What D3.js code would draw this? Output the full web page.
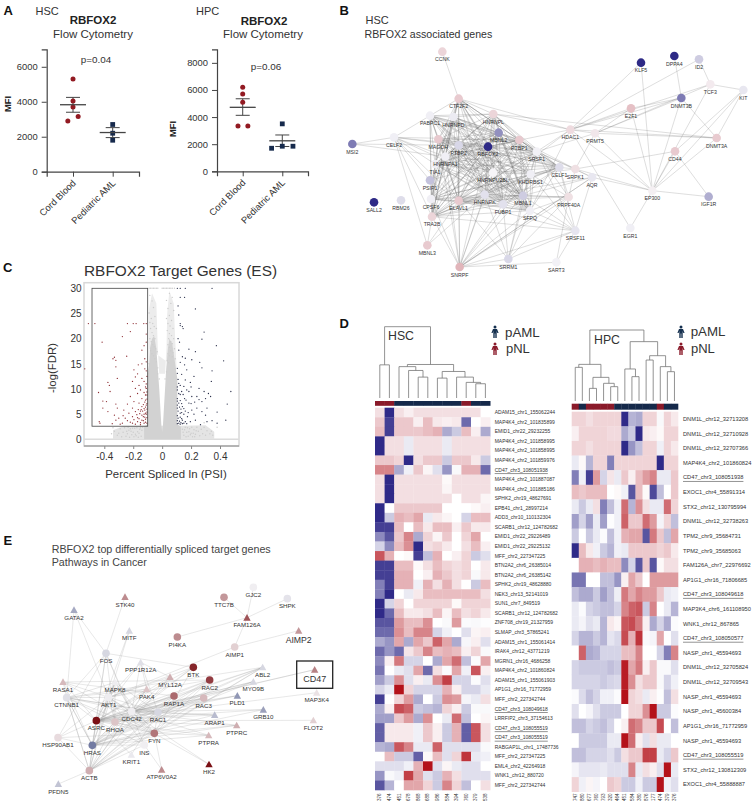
<!DOCTYPE html>
<html>
<head>
<meta charset="utf-8">
<script src="https://d3js.org/d3.v7.min.js"></script>
<style>
    body { margin: 0; background: #fff; }
    svg { display: block; }
    text { font-family: "Liberation Sans", Arial, sans-serif; }
    .panel { font-size: 13px; font-weight: bold; fill: #111; }
    .plot-axis text { fill: #333; }
    .plot-axis path, .plot-axis line { stroke: #444; }
</style>
</head>
<body>
<div id="chart"></div>
<script>
// panel A
const flowGroups = ['Cord Blood', 'Pediatric AML'];
const hscCord = [5300, 4050, 3700, 3150, 2900];
const hscCordJitter = [0, 0, 0, 0.13, -0.13];
const hscAml = [2700, 2200, 1800];
const hscAmlJitter = [0, 0, 0];
const hscStats = [[3830, 3400, 4250], [2240, 1950, 2520]];
const hpcCord = [6200, 5700, 5100, 3350, 3350];
const hpcCordJitter = [0, 0, 0, -0.12, 0.13];
const hpcAml = [3500, 1850, 1700, 1850];
const hpcAmlJitter = [0, 0, -0.27, 0.27];
const hpcStats = [[4720, 4130, 5350], [2250, 1830, 2680]];

// panel B, name / layout x / layout y / expression
const hscNodes = [
    ['CCNK', 337, 155, 1.5], ['CTF2F2', 386, 296, 2], ['PABPC1', 300, 347, -0.3], ['HNRNPD', 370, 351, -0.5],
    ['HNRNPL', 490, 342, 1.5], ['MBNL2', 506, 398, -5], ['MAGOH', 325, 418, 2], ['PTBP2', 386, 436, -1.5],
    ['RBFOX2', 474, 440, -10], ['PTBP1', 568, 420, 2], ['SRSF1', 620, 455, -0.2], ['CELF2', 192, 412, -0.3],
    ['MSI2', 67, 432, -6], ['HNRNPA1', 346, 470, -0.3], ['TIA1', 315, 492, -0.3], ['PSIP1', 300, 541, -2.5],
    ['CELF1', 688, 502, -1.2], ['SRPK1', 736, 507, 1], ['AQR', 786, 532, -0.7], ['HNRNPU2BL', 489, 518, 0],
    ['KHDRBS1', 602, 523, -0.3], ['HNRNPK', 464, 584, -1], ['FUBP1', 519, 613, -1], ['MBNL1', 579, 587, -2],
    ['ELAVL1', 386, 602, 2], ['CPSF6', 303, 597, -0.3], ['TRA2B', 306, 650, 1.5], ['SFPQ', 600, 632, -0.3],
    ['PRPF40A', 716, 591, 1], ['SRSF11', 736, 692, -0.8], ['MBNL3', 292, 736, 2], ['SNRPF', 389, 801, 3],
    ['SRRM1', 535, 777, -1.5], ['SART3', 679, 787, -0.2], ['SALL2', 132, 607, -10], ['RBM26', 213, 601, -1.2],
    ['HDAC1', 721, 389, 1.2], ['PRMT5', 795, 400, 0.7], ['E2F1', 903, 325, 2.5], ['DNMT3B', 1054, 294, -6],
    ['TCF3', 1141, 253, 0.5], ['KIT', 1240, 270, -0.7], ['ID2', 1107, 178, -2], ['DPPA4', 1033, 168, -10],
    ['KLF5', 933, 188, -10], ['DNMT3A', 1160, 414, 2], ['CD44', 1035, 454, 2], ['EP300', 967, 572, 0.3],
    ['IGF1R', 1136, 590, -3.5], ['EGR1', 901, 684, -0.3]
];
const hscCore = ['HNRNPL', 'MBNL2', 'MAGOH', 'PTBP2', 'RBFOX2', 'PTBP1', 'SRSF1', 'HNRNPA1', 'CELF1', 'HNRNPU2BL',
    'KHDRBS1', 'HNRNPK', 'FUBP1', 'MBNL1', 'ELAVL1', 'TRA2B', 'SFPQ', 'PABPC1', 'HNRNPD', 'CTF2F2', 'TIA1', 'CPSF6'];
const hscLinks = [
    'CCNK:CTF2F2',
    'MSI2:CELF2,HNRNPA1,PTBP2',
    'CELF2:PABPC1,HNRNPA1,PTBP2,RBFOX2,TRA2B,MBNL3,PSIP1,ELAVL1,TIA1,MBNL1,PTBP1',
    'HDAC1:HNRNPL,KLF5,E2F1,DNMT3B,DNMT3A,PRMT5,EP300,EGR1,SRSF1,SFPQ,CTF2F2,TCF3,ID2,RBFOX2,HNRNPK',
    'HNRNPL:DNMT3A,PTBP1',
    'PRMT5:EP300,DNMT3A,DNMT3B,TCF3,SRSF1,SRPK1,E2F1',
    'E2F1:EP300,DNMT3B',
    'KLF5:EP300',
    'DPPA4:DNMT3B',
    'DNMT3B:DNMT3A,EP300',
    'TCF3:ID2,KIT,EP300',
    'KIT:CD44,DNMT3A,EP300',
    'CD44:EP300,IGF1R,SRPK1',
    'DNMT3A:EP300',
    'EP300:EGR1,IGF1R,SRPK1,AQR',
    'AQR:SRPK1,SNRPF,SRSF11,MBNL1,SRSF1,ELAVL1',
    'SNRPF:ELAVL1,HNRNPK,FUBP1,MBNL1,SFPQ,PRPF40A,AQR,SRSF11,SRRM1,SART3,TRA2B,HNRNPA1,RBFOX2,KHDRBS1,PTBP2,MAGOH,HNRNPU2BL,CPSF6',
    'SRRM1:SRSF11,MBNL1,FUBP1,PRPF40A,ELAVL1,KHDRBS1,SFPQ,HNRNPK',
    'SRSF11:SART3,SFPQ,MBNL1,ELAVL1,SRSF1,KHDRBS1,CELF1,TRA2B',
    'MBNL3:TRA2B,ELAVL1,HNRNPK',
    'PRPF40A:SRPK1,SRSF1,SFPQ,MBNL1,HNRNPK,ELAVL1,KHDRBS1,CELF1',
    'SRPK1:SRSF1,CELF1,KHDRBS1,PTBP1',
    'PSIP1:ELAVL1,HNRNPA1,SRSF1,RBFOX2',
    'SART3:PRPF40A'
];

// panel C, [psi, -log fdr]
const volcanoEnvelope = [[-0.125, 0], [-0.125, 2.5], [-0.1, 3], [-0.1, 13], [-0.09, 15], [-0.085, 18], [-0.07, 20], [-0.055, 20.5],
    [-0.04, 18], [-0.03, 14], [-0.02, 10], [-0.012, 6], [-0.006, 3], [0, 1.5], [0.006, 3], [0.012, 6], [0.02, 10], [0.028, 14],
    [0.04, 18], [0.05, 20], [0.07, 19], [0.08, 17], [0.09, 15], [0.105, 12], [0.105, 3], [0.13, 2.5], [0.13, 0]];
const volcanoHazeTop = [[-0.09, 18], [-0.09, 26], [-0.07, 29], [-0.04, 27], [-0.03, 18], [-0.02, 13], [0.02, 13], [0.03, 18], [0.035, 25],
    [0.05, 29.5], [0.08, 27], [0.09, 20], [0.1, 14]];
const volcanoHazeBase = [[-0.34, 0], [-0.34, 1.8], [-0.27, 2.6], [-0.13, 2.7], [0.13, 2.7], [0.3, 2.8], [0.36, 1.5], [0.36, 0]];
const volcanoGrey = [[-0.09, 30], [-0.08, 30], [-0.07, 30], [-0.06, 30], [-0.05, 30], [-0.04, 30], [-0.03, 30], [0, 30], [0.01, 30],
    [0.02, 30], [0.03, 30], [0.04, 30], [0.05, 30], [0.06, 30], [0.07, 30], [0.085, 30], [-0.085, 28.6], [-0.07, 27.5], [-0.06, 26.2],
    [-0.09, 25.1], [-0.05, 24.4], [-0.075, 24], [-0.085, 23.2], [-0.065, 23], [-0.055, 22.4], [-0.04, 22], [-0.08, 22], [-0.07, 21.2],
    [-0.06, 20.6], [-0.05, 20], [-0.085, 20], [-0.075, 19.4], [-0.065, 18.8], [-0.055, 18.4], [-0.045, 18], [-0.035, 17.4], [-0.08, 17.6],
    [-0.07, 17], [-0.06, 16.6], [-0.05, 16], [-0.04, 15.4], [-0.09, 15], [-0.03, 14.2], [0.05, 29], [0.07, 28.2], [0.03, 27.6], [0.06, 27],
    [0.04, 26], [0.08, 25.6], [0.05, 24.6], [0.03, 24], [0.065, 23.6], [0.04, 23], [0.055, 22.5], [0.075, 22], [0.035, 21.6], [0.05, 21],
    [0.065, 20.6], [0.045, 20], [0.08, 20], [0.06, 19.4], [0.07, 19], [0.04, 18.8], [0.05, 18.3], [0.085, 18], [0.06, 17.6], [0.075, 17.2],
    [0.04, 17], [0.05, 16.6], [0.09, 16], [0.07, 16.4], [0.035, 15.6], [0.045, 15.2], [0.09, 14], [0.03, 13.4], [-0.02, 12], [-0.03, 13],
    [0.02, 12], [-0.095, 13], [0.1, 11], [-0.15, 2.3], [-0.17, 1.5], [-0.19, 2.2], [-0.21, 0.9], [-0.23, 1.8], [-0.25, 0.6], [-0.27, 1.4],
    [-0.29, 2.1], [-0.31, 0.8], [-0.33, 1.6], [-0.35, 1.1], [-0.34, 2.3], [-0.3, 1.2], [-0.28, 0.5], [-0.26, 2.3], [-0.24, 1.1], [-0.22, 2.1],
    [-0.2, 1.4], [-0.18, 0.7], [-0.16, 1.2], [-0.14, 1.8], [-0.145, 0.6], [-0.135, 2.4], [-0.155, 2], [-0.165, 0.4], [-0.175, 2.3], [-0.185, 1],
    [-0.195, 0.5], [-0.205, 2.2], [-0.215, 1.6], [-0.225, 0.4], [-0.235, 2.4], [-0.245, 1.6], [0.14, 2], [0.15, 0.8], [0.16, 2.4], [0.17, 1.4],
    [0.18, 0.6], [0.19, 2.1], [0.2, 1.2], [0.21, 0.5], [0.22, 1.9], [0.23, 1], [0.24, 2.4], [0.25, 1.6], [0.26, 0.7], [0.27, 2], [0.28, 1.1],
    [0.29, 2.4], [0.3, 0.8], [0.31, 1.7], [0.33, 1.1], [0.35, 0.8], [0.145, 1.4], [0.155, 1.9], [0.165, 0.5], [0.175, 2.3], [0.185, 1.5], [0.195, 0.9],
    [0.205, 2.4], [0.215, 1.2], [0.225, 0.5], [0.235, 1.7], [0.38, 2.4], [0.29, 3.3], [0.34, 1.6]];
const volcanoRed = [[-0.51, 23], [-0.465, 23], [-0.24, 23], [-0.2, 23], [-0.18, 23], [-0.127, 23], [-0.11, 23], [-0.275, 20.4], [-0.22, 21.4],
    [-0.415, 19.3], [-0.11, 20.9], [-0.11, 19.3], [-0.125, 18.6], [-0.14, 17.7], [-0.245, 16.5], [-0.33, 16.3], [-0.34, 16], [-0.32, 15.7],
    [-0.32, 14.4], [-0.535, 14], [-0.12, 16], [-0.11, 15.4], [-0.14, 15], [-0.165, 14.8], [-0.12, 14], [-0.195, 13.8], [-0.11, 13.6], [-0.31, 12.1],
    [-0.17, 13], [-0.185, 12.4], [-0.14, 12.1], [-0.375, 11.3], [-0.365, 10.7], [-0.205, 11.5], [-0.125, 11.5], [-0.16, 10.7], [-0.11, 11],
    [-0.44, 9.3], [-0.36, 9.5], [-0.185, 10.1], [-0.15, 9.8], [-0.11, 10.1], [-0.22, 8.5], [-0.17, 9.1], [-0.125, 9.3], [-0.41, 7.6], [-0.385, 7.5],
    [-0.32, 7], [-0.105, 8.8], [-0.14, 8.1], [-0.115, 7.8], [-0.195, 7.5], [-0.24, 7], [-0.16, 7.2], [-0.41, 6.2], [-0.31, 6.2], [-0.265, 5.8],
    [-0.205, 6.2], [-0.14, 6.5], [-0.11, 6.8], [-0.375, 5.5], [-0.33, 4.8], [-0.23, 5.2], [-0.185, 5.5], [-0.15, 5.6], [-0.12, 5.8], [-0.435, 3.5],
    [-0.43, 3.2], [-0.32, 3.8], [-0.3, 4.2], [-0.255, 4.2], [-0.205, 4.5], [-0.17, 4.3], [-0.14, 4.8], [-0.11, 5], [-0.275, 3.2], [-0.205, 3.2],
    [-0.17, 3.5], [-0.14, 3.8], [-0.115, 4], [-0.105, 3.2], [-0.15, 2.9], [-0.185, 3], [-0.24, 3.7], [-0.105, 9.4], [-0.115, 8.8], [-0.105, 8],
    [-0.12, 7.4], [-0.105, 7.1], [-0.13, 6.9], [-0.115, 6.4], [-0.105, 6], [-0.125, 6.1], [-0.135, 5.6], [-0.105, 5.4], [-0.115, 5.2], [-0.125, 5],
    [-0.13, 4.5], [-0.12, 4.4], [-0.105, 4.3], [-0.115, 3.4], [-0.125, 3.2], [-0.13, 3.7], [-0.16, 4.1], [-0.155, 5.1], [-0.145, 5.9], [-0.15, 3.3],
    [-0.165, 5.9], [-0.175, 4.9], [-0.195, 3.9], [-0.22, 3.4], [-0.29, 3], [-0.345, 3.1], [-0.27, 4.7], [-0.105, 12.5], [-0.115, 10.4]];
const volcanoBlue = [[0.105, 30], [0.125, 30], [0.16, 30], [0.345, 30], [0.125, 28.2], [0.155, 28.2], [0.11, 26.5], [0.23, 25.9], [0.115, 24.7],
    [0.125, 23], [0.14, 22.4], [0.145, 22], [0.125, 22.6], [0.29, 21.3], [0.275, 19.9], [0.11, 20], [0.12, 19.3], [0.375, 18.6], [0.185, 17.9],
    [0.23, 17.4], [0.115, 17.7], [0.425, 15.6], [0.14, 16.4], [0.16, 16.1], [0.205, 15.8], [0.26, 15.3], [0.125, 15.3], [0.155, 14.8], [0.275, 14.2],
    [0.105, 14.1], [0.345, 13.6], [0.17, 13.8], [0.135, 12.9], [0.22, 12.5], [0.105, 13.1], [0.16, 11.8], [0.34, 11.5], [0.195, 11.3], [0.115, 11.1],
    [0.475, 9.5], [0.255, 10.1], [0.15, 10.5], [0.105, 9.8], [0.185, 9.5], [0.29, 9.5], [0.335, 8.5], [0.125, 8.9], [0.24, 8.5], [0.205, 8.5],
    [0.3, 8.1], [0.105, 8.1], [0.155, 8.1], [0.275, 7.5], [0.45, 7], [0.185, 7.2], [0.115, 7.2], [0.14, 6.5], [0.24, 6.2], [0.105, 6.2], [0.205, 5.8],
    [0.31, 6.2], [0.38, 5.4], [0.16, 5.6], [0.275, 5.5], [0.125, 5.2], [0.105, 4.7], [0.22, 5], [0.175, 4.5], [0.3, 4.8], [0.44, 3.8], [0.31, 3.5],
    [0.345, 3.7], [0.38, 3.2], [0.23, 3.8], [0.14, 3.8], [0.115, 3.2], [0.15, 3.2], [0.195, 3.5], [0.265, 2.9], [0.11, 11.9], [0.125, 10.7], [0.105, 10.4],
    [0.135, 9.5], [0.115, 9.1], [0.145, 8.9], [0.105, 7.6], [0.125, 7.7], [0.165, 7.8], [0.135, 7.1], [0.105, 6.8], [0.12, 6.4], [0.13, 6], [0.15, 6.1],
    [0.11, 5.6], [0.135, 5.3], [0.15, 5], [0.11, 4.2], [0.125, 4.4], [0.135, 4.1], [0.105, 3.7], [0.12, 3.6], [0.13, 3.3], [0.14, 3.1], [0.105, 3.1],
    [0.125, 3], [0.16, 3.5], [0.17, 3.1], [0.18, 5.3], [0.2, 7.1], [0.17, 9.8], [0.2, 10.4], [0.225, 7.4], [0.255, 7.9], [0.32, 9.1]];

// panel D
const hscRows = ['ADAM15_chr1_155062244', 'MAP4K4_chr2_101835899', 'EMID1_chr22_29232255', 'MAP4K4_chr2_101858995', 'MAP4K4_chr2_101858995',
    'MAP4K4_chr2_101859976', 'CD47_chr3_108051938', 'MAP4K4_chr2_101887087', 'MAP4K4_chr2_101885186', 'SPHK2_chr19_48627691',
    'EPB41_chr1_28997214', 'ADD3_chr10_110132304', 'SCARB1_chr12_124782682', 'EMID1_chr22_29226489', 'EMID1_chr22_29225132',
    'MFF_chr2_227347225', 'BTN2A2_chr6_26385014', 'BTN2A2_chr6_26385142', 'SPHK2_chr19_48628880', 'NEK3_chr13_52141019',
    'SUN1_chr7_849519', 'SCARB1_chr12_124782682', 'ZNF708_chr19_21327959', 'SLMAP_chr3_57865241', 'ADAM15_chr1_155061414',
    'IRAK4_chr12_43771219', 'MGRN1_chr16_4686258', 'MAP4K4_chr2_101860824', 'ADAM15_chr1_155061903', 'AP1G1_chr16_71772959',
    'MFF_chr2_227342744', 'CD47_chr3_108049618', 'LRRFIP2_chr3_37154613', 'CD47_chr3_108055519', 'CD47_chr3_108055519',
    'RABGAP1L_chr1_17487736', 'MFF_chr2_227347225', 'EML4_chr2_42264918', 'WNK1_chr12_880720', 'MFF_chr2_227342744'];
const hscCols = ['376', '474', '451', '678', '868', '688', '986', '584', '394', '760', '379', '538'];
const hscGroup = ['pNL', 'pNL', 'pAML', 'pAML', 'pAML', 'pAML', 'pAML', 'pAML', 'pAML', 'pNL', 'pAML', 'pAML'];
const hscValues = [
    [1, -10, 1, 0.5, 1, 1, 1, 1, 1, 1, 1, 0],
    [2, -9, 2, 2, 0.5, 2.5, 0.7, 0.5, 0.7, -7, 0, 0.5],
    [2.5, -9, 2, 2, 2, 2.5, 3, -4, -2.5, 2.5, 0.5, -4],
    [-10, 1, 1, -1, 1, 1, 1, -1, 1, 1, 1, 1],
    [-10, 1, 1, -1, 1, 1, 1, -1, 1, 1, 1, 1],
    [2, 2, 1.5, -10, 1, 2, 2, -2.5, 2, 2, 0.7, -2.5],
    [5, 5, -4, -0.7, 2, 0.3, -1.5, -5, -0.3, 3, 3, -7],
    [1, -10, 1, 1, 1, 1, 1, 0.2, 1, 1, 1, 1],
    [1, -10, 1, 1, 1, 1, 1, 0.3, 1, 1, 1, 1],
    [1, -10, 1, 1, 1, 1, 1, 1, 0, 1, 1, 0.3],
    [-10, 0, 2, 2, 2, 2, 2, 0, 0, 0, 0.2, 0.5],
    [-10, -2.5, 3, 2.5, 3.5, -1, 0.7, 0.3, 0, -2, 2.5, 2.5],
    [-9, -9, 2.5, 0, 2.5, 0.7, 2.5, 2.5, 0.5, 2, 0.7, 0.7],
    [-5.5, -8, 2, 5, -4, 1.5, 0.3, 2, 0, 1.5, 3.5, 0],
    [-2, -5.5, 2.5, 4.5, -10, 1, 1.5, 0.7, 0, 1, 2.5, 0.5],
    [7, 3, 0, 0.2, -9, -3, 3, 0, 0.5, 1.5, -2.5, -1.5],
    [-9, -9, 2.5, 2.5, 0.2, 1, 2.5, 1.5, 1, 1.5, 0, 0.7],
    [-9, -9, 3, 3, 0, 0.5, 3, 2, 1, 1.5, -0.3, 0.7],
    [-6, -9, 3, 3, -0.7, 3, 1, 3, 1, 0, -2.5, 2.5],
    [-6, -10, 0, -1, 0.7, 2.5, 2.5, 2.5, 2.5, 2.5, 2.5, 1],
    [-10, -2, 1.5, 0, 1.5, 1.5, 1.5, 1.5, 0.2, 1.5, 1.5, 1.5],
    [-10, -7, 2.5, 0.7, 0.7, 1, 2.5, 0.3, 2.5, 1, 1.5, 0.7],
    [-8, -8, 4, 2.5, 2.5, 4.5, 0, -0.3, 4, -0.2, -0.3, -0.1],
    [-7, -7, 4.5, 2.5, 5, 5, -2, -0.7, 0, -1.5, 0.3, 0.5],
    [-4, -5, 3.5, -4, 3.5, 2, 6.5, 3.5, -4, -0.4, 0.5, -1.5],
    [-7, -5, -7, 0.8, 2, 5, 2.5, 3, 2.5, 0.5, 1.5, -0.3],
    [-5.5, 0.5, 5.5, -2, -2, 0, -4, 3.5, 6, -3, -0.2, 3.5],
    [-6.5, 0, -1, -1.5, 3.5, -7, 1, -0.2, 3.5, -0.7, 7, 0.5],
    [-4.5, -2.5, 4.5, -1.5, 0.5, -1, 4.5, 8, -2, -2, -0.2, -1.5],
    [-2, -1, 10, 1.5, -2, -2, -2, 3, 0.5, -2, -2, -1],
    [-9, 0, 1.5, 4, -4, 0, -2.5, 4.5, 4, -0.5, -1, 1],
    [-4, 0.5, 7.5, 6.5, -2.5, -3, -3.5, 1.5, 0.5, -2.5, -0.3, -0.3],
    [-4.5, -4.5, 2, 4, -4, 4.5, 0, -1, 6, -3, 0, 0.3],
    [-7.5, 0.7, 0.7, 0.7, -0.7, 2, 0.5, -2.5, 3, -7.5, 7, 1],
    [-7.5, 0.7, 0.7, 0.7, -0.7, 2, 0.5, -2.5, 3, -7.5, 7, 1],
    [-3.5, -4, 7, 5, -1, -1, 6.5, -1.5, -1.5, -1.5, -1.5, -0.3],
    [0, 2.5, -2.5, -2.5, -7.5, 0.2, 2.5, -1.5, 1.5, 8.5, -1, -0.7],
    [-1.5, -1.5, -1.5, -0.7, 3, 10, -1.5, 0.3, -1, -1.5, -1.5, 0],
    [-5, -0.3, -0.7, 8, 3.5, -1.5, -2.5, 3, 1, -1.5, -1.5, -1.5],
    [-8, -3.5, 0, 3.5, 3.5, 1.5, -2.5, 5, 1.5, -3, 0, 1]
];
// [height, left, right], a number is a column index
const hscTree = [1, [0.465, 0, 1], [0.47, [0.44, 2, [0.386, 3, [0.293, 4, 5]]],
    [0.372, [0.279, 6, 7], [0.293, 8, [0.219, 9, [0.2, 10, 11]]]]]];

const hpcRows = ['DNM1L_chr12_32713208', 'DNM1L_chr12_32710928', 'DNM1L_chr12_32707366', 'MAP4K4_chr2_101860824', 'CD47_chr3_108051938',
    'EXOC1_chr4_55891314', 'STX2_chr12_130795994', 'DNM1L_chr12_32738263', 'TPM2_chr9_35684731', 'TPM2_chr9_35685063',
    'FAM126A_chr7_22976692', 'AP1G1_chr16_71806685', 'CD47_chr3_108049618', 'MAP3K4_chr6_161108950', 'WNK1_chr12_867865',
    'CD47_chr3_108050577', 'NASP_chr1_45594693', 'DNM1L_chr12_32705824', 'DNM1L_chr12_32709543', 'NASP_chr1_45594693',
    'NASP_chr1_45600384', 'AP1G1_chr16_71772959', 'NASP_chr1_45594693', 'CD47_chr3_108055519', 'STX2_chr12_130812309', 'EXOC1_chr4_55888887'];
const hpcCols = ['747', '880', '677', '760', '793', '320', '464', '451', '584', '380', '876', '177', '474', '379', '376'];
const hpcGroup = ['pNL', 'pAML', 'pNL', 'pNL', 'pNL', 'pNL', 'pAML', 'pAML', 'pAML', 'pAML', 'pAML', 'pAML', 'pNL', 'pAML', 'pAML'];
const hpcValues = [
    [1.5, 1.5, 1, 1.5, 1.5, 1.5, 1.5, -10, -3.5, -4, 1.5, 1.5, -0.3, 1.5, 0.7],
    [0.5, 1.5, 1.5, 1.5, 1.5, 1.2, 1.2, -4, -2.5, -10, 0.7, 0.5, 0.2, 1.5, 1.5],
    [1.5, 1.5, 1, 1.5, 1.5, 1.5, 1.5, -10, -5, -3, 1.5, 1.5, -0.7, 1.5, 0.7],
    [-1, 0.2, -3.5, 1.5, 1.5, -6, 1.5, 1.5, 1.5, 1.5, 1.5, 1.5, -10, 1.5, 1.5],
    [-6, -0.7, -9, 4, -2, 0.8, -1, 2, 0.5, 2.5, 4, 5, -1, -1, 2],
    [2.5, 2, 2.5, 2.5, 2.5, 0, 0.2, -0.7, -8, 2.5, 0.2, -8.5, -3, 0, 2],
    [-1, -2.5, -1, 1, -6, -3, -0.7, 6, -3.5, 4.5, 1, -1, -1, 6, 1.5],
    [-4.5, -2, -4.5, -1, -4.5, -0.1, -0.7, 6.5, 2, 2, 6, 4, -0.5, 1.5, -3],
    [-2.5, 0, -2.5, -1, -0.2, -3, -0.7, 3, 3.5, 3.5, -8, 5.5, 2, -3, 3.5],
    [-10, 2.5, 0.7, -0.7, -2.5, -3.5, -0.7, -1, 2, 2, 2, 2, 1.5, 2, 0.7],
    [0, 3, 3, 2.5, 3, 2.5, 2.5, -5.5, -2, -8, 2, -8, 0.2, 1, 1],
    [-6.5, -6.5, 0, 0, -3, -3, -5, 0.5, 3.5, 2, 0, 4, 4, 4, 4],
    [-3, -4, -4, -2.5, -4.5, -3, -0.8, 5.5, 3.5, 5, 4, 4, 2, -1, -0.7],
    [-1, -0.2, -2, -2.5, -3, -3, -2, 5, 6.5, 7, -2.5, 5, 0, -1, -3.5],
    [-1, -0.5, -1.5, -1, -3.5, 0.7, 0.3, 7, 7.5, 5.5, 0.5, -4, -2, -4, -0.2],
    [-2, -3.5, -3.5, -2.5, -3.5, -1.2, -1.8, 7.5, 3, 8.5, -0.3, -0.5, 3.5, 0, -1.5],
    [0, 6.5, -4, -3.5, -2, -2, -2, 2.5, 2.5, 5, 0, 0, -2, -6, 5],
    [-2, -2.5, -2.5, -2.5, -2.5, -3, -2.5, 9.5, 3.5, 5.5, 0.5, 2, -0.3, -0.3, -1.5],
    [-2, -2, -2, -2, -2.5, -2, -1.8, 9.5, 4.5, 1, 2, 2, -0.3, -2, -0.7],
    [-0.2, -1.7, -3, -2, -0.7, -0.7, -0.2, 10, 1.5, 1, -1, 0.5, -0.1, -3, 1],
    [-1.5, 0, -0.5, -1.5, -2.5, -2.5, -2.5, 0, 1.5, 1.5, 4.5, 10, -2.5, -2.5, -0.2],
    [-3, -3, -2, -2.5, -3, -2, 0, 0.5, 6, 5, 2, 2, 7.5, 0, -3],
    [0, -2.5, -2.5, -2.5, -2.5, -1, -1, 10, 6, 0.5, -1.5, 1, -1, -1, 0],
    [-3, -3, -2, -2, -2, -1.5, -2.5, 1, 2, 2, 8, 8, -1, -2, 2],
    [-0.5, -1.2, -1.2, -1.2, -1, -1.5, -1.5, -1.5, 5, -1, 1, 0.5, -1.5, 10, -1],
    [1.5, -0.7, 0.3, -0.5, 0, 2, 1.5, -2.5, -2.5, -0.7, -2.5, -2.5, 10, -0.7, -1.5]
];
const hpcTree = [1, [0.516, [0.474, 0, 1], [0.333, [0.178, 2, 3], [0.249, 4, [0.202, 5, 6]]]],
    [0.836, [0.451, 7, [0.343, 8, 9]], [0.638, [0.577, 10, 11], [0.484, 12, [0.413, 13, 14]]]]];

// panel E, name / layout x / layout y / value
const cancerCircles = [
    ['TTC7B', 672, 217, 4], ['GJC2', 760, 187, -0.2], ['SHPK', 862, 221, -0.8], ['PI4KA', 532, 336, 4.5], ['AIMP1', 704, 366, 1.5],
    ['FOS', 318, 385, -1.5], ['BTK', 580, 427, 9], ['RAC2', 629, 465, 8], ['RAP1A', 522, 513, 6], ['RAC3', 611, 519, 2.5],
    ['CTNNB1', 200, 518, -1], ['AKT1', 326, 517, -0.3], ['ASRC', 289, 587, 10], ['RHOA', 345, 591, 2], ['CDC42', 395, 560, -0.2],
    ['RAC1', 474, 562, -1.5], ['FYN', 463, 625, 5.5], ['HSP90AB1', 174, 638, 1], ['HRAS', 277, 661, -6.5], ['INS', 433, 660, -0.2],
    ['ACTB', 268, 737, 3]
];
const cancerTriangles = [
    ['STK40', 375, 216, 4.5], ['GATA2', 222, 255, -4], ['MITF', 388, 317, -1.5], ['FAM126A', 741, 278, 7], ['AIMP2', 896, 317, 4],
    ['PPP1R12A', 422, 412, -1], ['ABL2', 788, 427, -1.5], ['MYL12A', 510, 456, 3], ['RASA1', 189, 471, 2.5], ['MAPK8', 345, 472, -0.3],
    ['MYO9B', 760, 470, -1.5], ['PAK4', 440, 492, 2], ['PLD1', 712, 512, -5], ['MAP3K4', 950, 503, 0.7], ['CD47', 944, 434, 5],
    ['ARAP1', 644, 570, -3], ['GRB10', 790, 554, -4.5], ['PTPRC', 710, 601, 3], ['PTPRA', 626, 631, 2.5], ['FLOT2', 940, 586, 1.5],
    ['KRIT1', 394, 689, -0.5], ['ATP6V0A2', 485, 734, 4.5], ['HK2', 627, 718, 10], ['PFDN5', 175, 777, -2.5]
];
const cancerCore = ['AKT1', 'MAPK8', 'CDC42', 'RAC1', 'RHOA', 'ASRC', 'HRAS', 'FYN', 'ACTB', 'CTNNB1'];
const cancerLinks = [
    'ASRC:ABL2,MYO9B,BTK,RAC2,RAP1A,RAC3,PAK4,MYL12A,PPP1R12A,PLD1,ARAP1,GRB10,PTPRC,PTPRA,CD47,FLOT2,RASA1,HSP90AB1,MAP3K4',
    'HRAS:RAC2,RAP1A,RAC3,BTK,PTPRC,PTPRA,ARAP1,GRB10,ABL2,PAK4,MYO9B,HSP90AB1,RASA1',
    'CDC42:ABL2,MYO9B,RAC2,RAP1A,RAC3,BTK,PAK4,MYL12A,ARAP1,PLD1,CD47,GRB10,PTPRA,PTPRC,FOS,PPP1R12A',
    'RAC1:RAC2,RAC3,ABL2,MYO9B,PLD1,ARAP1,RAP1A,KRIT1,PPP1R12A',
    'FYN:HK2,BTK,PTPRC,PTPRA,RAC2,ATP6V0A2,ABL2,RASA1,HSP90AB1',
    'FOS:STK40,GATA2,BTK,CTNNB1,ASRC,HSP90AB1,INS,RHOA,HRAS',
    'MITF:AKT1,ASRC',
    'GATA2:CTNNB1,AKT1',
    'AIMP1:AIMP2,FAM126A,AKT1',
    'FAM126A:PI4KA,TTC7B,GJC2,SHPK',
    'AKT1:INS,HK2,RASA1,HSP90AB1,PPP1R12A,MYL12A,BTK,RAC2,PAK4',
    'INS:HRAS,ACTB,ATP6V0A2,ASRC',
    'KRIT1:ASRC',
    'ACTB:PFDN5,HSP90AB1,MYL12A,RAC3,RAP1A,RAC2,PAK4,CTNNB1,ABL2',
    'RASA1:RAP1A,CTNNB1,RAC2',
    'PPP1R12A:PAK4,MYL12A',
    'CTNNB1:PAK4,RAC1,ABL2,HRAS'
];

const width = 756;
const height = 805;

const svg = d3.select('#chart')
    .append('svg')
    .attr('width', width)
    .attr('height', height);

function panelLetter(letter, x, y) {
    svg.append('text').attr('class', 'panel').attr('x', x).attr('y', y).text(letter);
}

function plainText(str, x, y, size, anchor, color) {
    return svg.append('text')
        .attr('x', x)
        .attr('y', y)
        .attr('font-size', size)
        .attr('text-anchor', anchor || 'start')
        .attr('fill', color || '#333')
        .text(str);
}

panelLetter('A', 3.5, 14.5);
panelLetter('B', 339.5, 14.5);
panelLetter('C', 3, 272);
panelLetter('D', 339.5, 328);
panelLetter('E', 3.5, 545);

// ---- A ----
function drawFlow(opts) {
    const y = d3.scaleLinear().domain([0, opts.top]).range([opts.y0, 49.3]);
    const x = d3.scalePoint().domain(flowGroups).range(opts.xRange).padding(opts.padding);
    const g = svg.append('g').attr('class', 'plot-axis');

    const yAxis = g.append('g')
        .attr('transform', `translate(${opts.xRange[0]}, 0)`)
        .call(d3.axisLeft(y).tickValues(opts.ticks).tickSize(5).tickFormat(d3.format('d')));
    yAxis.selectAll('text').attr('font-size', 9.4).attr('dx', -1);

    const xAxis = g.append('g')
        .attr('transform', `translate(0, ${opts.y0})`)
        .call(d3.axisBottom(x).tickSize(5));
    xAxis.selectAll('text')
        .attr('font-size', 9.4)
        .attr('text-anchor', 'end')
        .attr('y', 0)
        .attr('dy', 0)
        .attr('transform', 'translate(3, 12) rotate(-45)');
    g.selectAll('.domain').attr('stroke-width', 1.2);

    const step = x.step();
    flowGroups.forEach((group, i) => {
        const cx = x(group);
        const vals = i === 0 ? opts.cord : opts.aml;
        const jit = i === 0 ? opts.cordJit : opts.amlJit;
        const s = opts.stats[i];
        g.append('line').attr('x1', cx).attr('x2', cx).attr('y1', y(s[1])).attr('y2', y(s[2])).attr('stroke', '#555');
        g.selectAll(null).data([s[1], s[2]]).enter().append('line')
            .attr('x1', cx - 7).attr('x2', cx + 7)
            .attr('y1', d => y(d)).attr('y2', d => y(d))
            .attr('stroke', '#555');
        if (i === 0) {
            g.selectAll(null).data(vals).enter().append('circle')
                .attr('cx', (d, j) => cx + jit[j] * step)
                .attr('cy', d => y(d))
                .attr('r', 2.5)
                .attr('fill', '#921a22');
        } else {
            g.selectAll(null).data(vals).enter().append('rect')
                .attr('x', (d, j) => cx + jit[j] * step - 2.4)
                .attr('y', d => y(d) - 2.4)
                .attr('width', 4.8)
                .attr('height', 4.8)
                .attr('fill', '#162a4c');
        }
        g.append('line').attr('x1', cx - 13).attr('x2', cx + 13).attr('y1', y(s[0])).attr('y2', y(s[0]))
            .attr('stroke', '#222').attr('stroke-width', 1.3);
    });
}

drawFlow({
    top: 7000, y0: 171.7, xRange: [46.7, 139], padding: 0.6625, ticks: [0, 2000, 4000, 6000],
    cord: hscCord, aml: hscAml, cordJit: hscCordJitter, amlJit: hscAmlJitter, stats: hscStats
});
drawFlow({
    top: 9000, y0: 171.3, xRange: [217, 308], padding: 0.65, ticks: [0, 2000, 4000, 6000, 8000],
    cord: hpcCord, aml: hpcAml, cordJit: hpcCordJitter, amlJit: hpcAmlJitter, stats: hpcStats
});

plainText('HSC', 35.5, 15, 11);
plainText('RBFOX2', 93, 24, 11.5, 'middle', '#222').attr('font-weight', 'bold');
plainText('Flow Cytometry', 93, 38, 11.5, 'middle');
plainText('p=0.04', 96, 63, 9.9, 'middle');
plainText('MFI', 0, 0, 9.4, 'middle', '#222').attr('font-weight', 'bold')
    .attr('transform', 'translate(11, 104) rotate(-90)');
plainText('HPC', 196, 15, 11);
plainText('RBFOX2', 264, 25, 11.5, 'middle', '#222').attr('font-weight', 'bold');
plainText('Flow Cytometry', 263, 38, 11.5, 'middle');
plainText('p=0.06', 266, 70, 9.9, 'middle');
plainText('MFI', 0, 0, 9.4, 'middle', '#222').attr('font-weight', 'bold')
    .attr('transform', 'translate(176, 129) rotate(-90)');

// ---- networks ----
function parseLinks(rows) {
    const out = [];
    rows.forEach((row) => {
        const parts = row.split(':');
        parts[1].split(',').forEach(b => out.push([parts[0], b]));
    });
    return out;
}

function cliquePairs(names) {
    return d3.cross(names, names).filter(p => names.indexOf(p[0]) < names.indexOf(p[1]));
}

// ---- B ----
const bx = d3.scaleLinear().domain([0, 1278]).range([330, 756]);
const by = d3.scaleLinear().domain([0, 870]).range([0, 290]);
const bColor = d3.scaleLinear().domain([-10, 0, 10]).range(['#2e2a86', '#f6f5f8', '#b0202a']);
const bLookup = new Map(hscNodes.map(d => [d[0], d]));

plainText('HSC', 365.5, 24, 11);
plainText('RBFOX2 associated genes', 364.5, 38, 10.6);

const bEdges = svg.append('g').attr('fill', 'none').attr('stroke', '#6e6e6e');
function drawEdges(layer, pairs, lookup, xs, ys, opacity, w) {
    layer.append('g')
        .selectAll('line')
        .data(pairs)
        .enter()
        .append('line')
        .attr('x1', d => xs(lookup.get(d[0])[1]))
        .attr('y1', d => ys(lookup.get(d[0])[2]))
        .attr('x2', d => xs(lookup.get(d[1])[1]))
        .attr('y2', d => ys(lookup.get(d[1])[2]))
        .attr('stroke-opacity', opacity)
        .attr('stroke-width', w);
}
drawEdges(bEdges, cliquePairs(hscCore), bLookup, bx, by, 0.42, 0.6);
drawEdges(bEdges, parseLinks(hscLinks), bLookup, bx, by, 0.42, 0.55);

svg.append('g').selectAll('circle')
    .data(hscNodes)
    .enter()
    .append('circle')
    .attr('cx', d => bx(d[1]))
    .attr('cy', d => by(d[2]))
    .attr('r', 4.3)
    .attr('fill', d => bColor(d[3]));
svg.append('g').selectAll('text')
    .data(hscNodes)
    .enter()
    .append('text')
    .attr('x', d => bx(d[1]))
    .attr('y', d => by(d[2]) + 9.7)
    .attr('text-anchor', 'middle')
    .attr('font-size', 5.2)
    .attr('fill', '#333')
    .text(d => d[0]);

// ---- C ----
const vx = d3.scaleLinear().domain([-0.4, 0.4]).range([104.3, 220]);
const vy = d3.scaleLinear().domain([0, 30]).range([439.3, 288.3]);
const volcanoLine = d3.line().x(d => vx(d[0])).y(d => vy(d[1]));

svg.append('rect')
    .attr('x', 84).attr('y', 282.7).attr('width', 155).attr('height', 163.3)
    .attr('fill', 'none').attr('stroke', '#d8d8d8').attr('stroke-width', 1.5);
svg.append('line')
    .attr('x1', 84).attr('x2', 239).attr('y1', vy(0)).attr('y2', vy(0))
    .attr('stroke', '#dcdcdc').attr('stroke-width', 1.6);

const vxAxis = svg.append('g')
    .attr('transform', 'translate(0, 446)')
    .call(d3.axisBottom(vx).tickValues([-0.4, -0.2, 0, 0.2, 0.4]).tickSize(3).tickFormat(d => (d === 0 ? '0' : d3.format('.1f')(d).replace('\u2212', '-'))));
vxAxis.select('.domain').attr('d', 'M84,0H239').attr('stroke', '#888');
vxAxis.selectAll('line').attr('stroke', '#888');
vxAxis.selectAll('text').attr('font-size', 10).attr('fill', '#333').attr('dy', 8);

const vyAxis = svg.append('g')
    .attr('transform', 'translate(84, 0)')
    .call(d3.axisLeft(vy).tickValues([0, 5, 10, 15, 20, 25, 30]).tickSize(0));
vyAxis.select('.domain').remove();
vyAxis.selectAll('text').attr('font-size', 10).attr('fill', '#333').attr('x', -2.5);

svg.append('path')
    .attr('d', volcanoLine(volcanoHazeBase) + 'Z')
    .attr('fill', '#e4e4e4');
svg.append('path')
    .attr('d', volcanoLine(volcanoHazeTop) + 'Z')
    .attr('fill', '#ececec');
svg.append('path')
    .attr('d', volcanoLine(volcanoEnvelope) + 'Z')
    .attr('fill', '#d2d2d2');
svg.append('g').selectAll('circle')
    .data(volcanoGrey)
    .enter()
    .append('circle')
    .attr('cx', d => vx(d[0]))
    .attr('cy', d => vy(d[1]))
    .attr('r', 0.7)
    .attr('fill', '#cccccc');
svg.append('g').selectAll('circle')
    .data(volcanoRed)
    .enter()
    .append('circle')
    .attr('cx', d => vx(d[0]))
    .attr('cy', d => vy(d[1]))
    .attr('r', 0.65)
    .attr('fill', '#8c2a30');
svg.append('g').selectAll('circle')
    .data(volcanoBlue)
    .enter()
    .append('circle')
    .attr('cx', d => vx(d[0]))
    .attr('cy', d => vy(d[1]))
    .attr('r', 0.65)
    .attr('fill', '#232844');
svg.append('rect')
    .attr('x', vx(-0.485)).attr('y', vy(30))
    .attr('width', vx(-0.1) - vx(-0.485)).attr('height', vy(2.6) - vy(30))
    .attr('fill', 'none').attr('stroke', '#444').attr('stroke-width', 0.8);

plainText('RBFOX2 Target Genes (ES)', 84, 276, 15.4);
plainText('Percent Spliced In (PSI)', 166, 478, 11.4, 'middle');
plainText('-log(FDR)', 0, 0, 11.4, 'middle').attr('transform', 'translate(56, 368) rotate(-90)');

// ---- D ----
const heatColor = d3.scaleLinear()
    .domain([-10, 0, 1, 10])
    .range(['#2f2a88', '#ffffff', '#f3dfe2', '#b4121a']);
const groupColor = { pNL: '#8a1a2a', pAML: '#15294a' };

function drawHeatmap(opts) {
    const colX = d3.scaleBand().domain(d3.range(opts.cols.length)).range(opts.xRange);
    const rowY = d3.scaleBand().domain(d3.range(opts.rows.length)).range(opts.yRange);
    const g = svg.append('g');

    opts.values.forEach((row, r) => {
        g.selectAll(null)
            .data(row)
            .enter()
            .append('rect')
            .attr('x', (d, c) => colX(c))
            .attr('y', rowY(r))
            .attr('width', colX.bandwidth() + 0.3)
            .attr('height', rowY.bandwidth() + 0.3)
            .attr('fill', d => heatColor(d));
    });

    g.selectAll(null)
        .data(opts.group)
        .enter()
        .append('rect')
        .attr('x', (d, c) => colX(c))
        .attr('y', opts.barY)
        .attr('width', colX.bandwidth() + 0.3)
        .attr('height', opts.barH)
        .attr('fill', d => groupColor[d]);

    const labels = g.selectAll(null)
        .data(opts.rows)
        .enter()
        .append('text')
        .attr('x', opts.labelX)
        .attr('y', (d, r) => rowY(r) + rowY.bandwidth() / 2 + opts.labelSize * 0.35)
        .attr('font-size', opts.labelSize)
        .attr('fill', '#333')
        .text(d => d);

    labels.each(function (d, r) {
        if (!d.startsWith('CD47')) return;
        const len = this.getComputedTextLength();
        const y = rowY(r) + rowY.bandwidth() / 2 + opts.labelSize * 0.35 + 2;
        g.append('line')
            .attr('x1', opts.labelX).attr('x2', opts.labelX + len)
            .attr('y1', y).attr('y2', y)
            .attr('stroke', '#666').attr('stroke-width', 0.7);
    });

    g.selectAll(null)
        .data(opts.cols)
        .enter()
        .append('text')
        .attr('transform', (d, c) => `translate(${colX(c) + colX.bandwidth() / 2 + 1.6}, 801) rotate(-90)`)
        .attr('font-size', 4.6)
        .attr('fill', '#333')
        .text(d => d);

    // dendrogram
    const hy = d3.scaleLinear().domain([0, 1]).range(opts.treeRange);
    const paths = [];
    function walk(node) {
        if (typeof node === 'number') return { x: colX(node) + colX.bandwidth() / 2, h: 0 };
        const a = walk(node[1]);
        const b = walk(node[2]);
        paths.push(`M${a.x},${hy(a.h)}V${hy(node[0])}H${b.x}V${hy(b.h)}`);
        return { x: (a.x + b.x) / 2, h: node[0] };
    }
    walk(opts.tree);
    g.append('path')
        .attr('d', paths.join(''))
        .attr('fill', 'none')
        .attr('stroke', '#777')
        .attr('stroke-width', 0.8);
}

drawHeatmap({
    rows: hscRows, cols: hscCols, values: hscValues, group: hscGroup, tree: hscTree,
    xRange: [375, 490.2], yRange: [407.7, 790], barY: 401, barH: 4.8,
    labelX: 494.7, labelSize: 5, treeRange: [398, 326.7]
});
drawHeatmap({
    rows: hpcRows, cols: hpcCols, values: hpcValues, group: hpcGroup, tree: hpcTree,
    xRange: [571.7, 678], yRange: [411.7, 791.7], barY: 403.7, barH: 6,
    labelX: 683, labelSize: 5.7, treeRange: [401, 330]
});

function person(x, y, color) {
    const g = svg.append('g').attr('transform', `translate(${x}, ${y})`).attr('fill', color);
    g.append('circle').attr('cx', 0).attr('cy', -5).attr('r', 1.5);
    g.append('path').attr('d', 'M-3.6,1 L-2,-3 H2 L3.6,1 L2.3,1 L1.7,-1 V6 H0.3 V1.5 H-0.3 V6 H-1.7 V-1 L-2.3,1 Z');
}
plainText('HSC', 388, 340, 12.3);
person(495, 332, '#15304f');
plainText('pAML', 505, 337, 13.3);
person(495, 349, '#8a1a2a');
plainText('pNL', 506, 353, 13);
plainText('HPC', 594, 344, 12.3);
person(681, 332, '#15304f');
plainText('pAML', 690.7, 336, 13.3);
person(681, 349, '#8a1a2a');
plainText('pNL', 691, 353, 13);

// ---- E ----
const ex = d3.scaleLinear().domain([0, 1020]).range([0, 340]);
const ey = d3.scaleLinear().domain([0, 840]).range([525, 805]);
const eColor = d3.scaleLinear().domain([-8, 0, 10]).range(['#55608f', '#f4f2f4', '#7a0f14']);
const eAll = cancerCircles.concat(cancerTriangles);
const eLookup = new Map(eAll.map(d => [d[0], d]));

plainText('RBFOX2 top differentially spliced target genes', 51.7, 553, 10.7, 'start', '#444');
plainText('Pathways in Cancer', 51.7, 566, 10.7, 'start', '#444');

const eEdges = svg.append('g').attr('fill', 'none').attr('stroke', '#999');
drawEdges(eEdges, cliquePairs(cancerCore), eLookup, ex, ey, 0.5, 0.5);
drawEdges(eEdges, parseLinks(cancerLinks), eLookup, ex, ey, 0.45, 0.5);

svg.append('g').selectAll('circle')
    .data(cancerCircles)
    .enter()
    .append('circle')
    .attr('cx', d => ex(d[1]))
    .attr('cy', d => ey(d[2]))
    .attr('r', 3.8)
    .attr('fill', d => eColor(d[3]));
svg.append('g').selectAll('path')
    .data(cancerTriangles)
    .enter()
    .append('path')
    .attr('d', 'M0,-3.7L3.7,3H-3.7Z')
    .attr('transform', d => `translate(${ex(d[1])}, ${ey(d[2])})`)
    .attr('fill', d => eColor(d[3]));
svg.append('g').selectAll('text')
    .data(eAll)
    .enter()
    .append('text')
    .attr('x', d => ex(d[1]))
    .attr('y', d => ey(d[2]) + (d[0] === 'CD47' || d[0] === 'AIMP2' ? 12.5 : 9.8))
    .attr('text-anchor', 'middle')
    .attr('font-size', d => (d[0] === 'CD47' ? 9 : d[0] === 'AIMP2' ? 8.7 : 6.2))
    .attr('fill', '#333')
    .text(d => d[0]);

svg.append('rect')
    .attr('x', 296.7).attr('y', 661).attr('width', 36).attr('height', 27.3)
    .attr('fill', 'none').attr('stroke', '#222').attr('stroke-width', 1.3);
</script>
</body>
</html>
